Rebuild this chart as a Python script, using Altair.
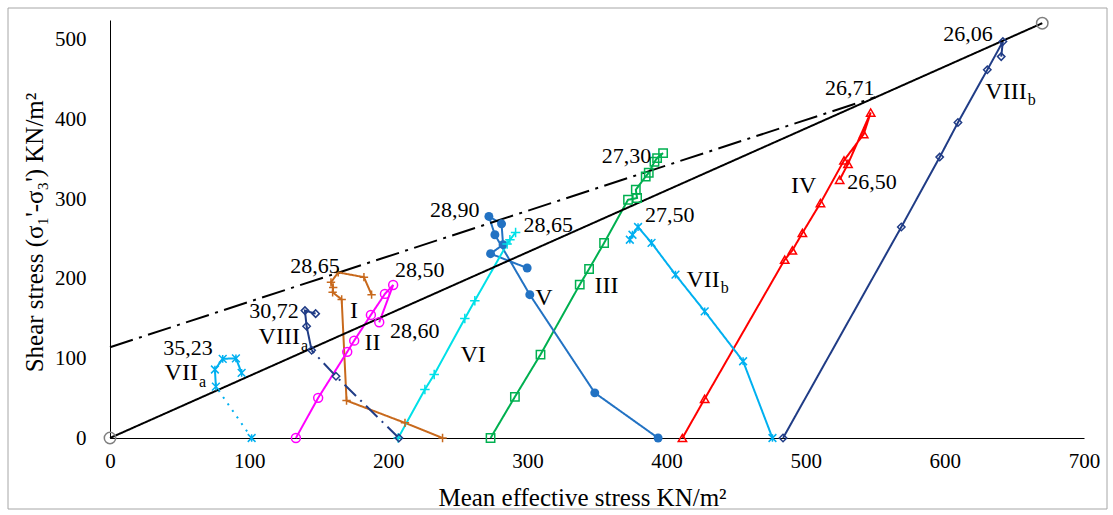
import altair as alt
import pandas as pd

# ---------------- data ----------------
I_x = [239, 212, 170, 166.5, 160, 160.4, 158.8, 164, 182.5, 188]
I_y = [0, 19, 47, 174, 183, 189, 195.5, 208, 202, 180]
II_x = [133.6, 149.6, 170.5, 175.5, 187.5, 197.6, 203.5, 193.5]
II_y = [0, 50.4, 108.2, 122.3, 154.6, 181, 192.2, 145.3]
III_x = [273.5, 291, 309.4, 337.6, 344.3, 355.1, 372.3, 378.8, 377.9, 385, 387.2, 391.3, 393.2, 397.5]
III_y = [0, 51.7, 104.8, 192.6, 212.3, 244.9, 299.2, 301.4, 311.8, 328.5, 333.1, 346.9, 351.6, 357.8]
IV_x = [411.4, 427.4, 484.9, 490.4, 497.6, 510.6, 527.5, 541.7, 546.7, 530.4, 524.4]
IV_y = [0, 49.2, 224, 235.6, 257.5, 295.1, 348.6, 381.7, 408.8, 344.4, 324.3]
V_x = [393.9, 348.4, 301.7, 276.6, 272.3, 281.4, 282.5, 273.5, 299.8]
V_y = [0, 56.7, 180, 255.3, 278.3, 269, 242.8, 231.5, 213.5]
VI_x = [207.1, 226.3, 233, 255, 262.2, 285.4, 287.4, 291.5]
VI_y = [0, 60.9, 79.7, 150, 172.5, 243.7, 249, 258.2]
VIIa_x = [101.8, 76.1, 75.4, 81, 90.5, 94.6]
VIIa_y = [0, 64.6, 86, 99.4, 100.1, 81.8]
VIIb_x = [476.1, 455, 427.4, 406.4, 389.2, 379.5, 375.5, 373.6]
VIIb_y = [0, 96.4, 159.1, 205.1, 245, 265, 255.3, 249]
VIIIa_x = [207.6, 162.4, 144.9, 141.3, 140.1, 147.8]
VIIIa_y = [0, 77.5, 110.2, 140.3, 160, 156.2]
VIIIb_x = [483.7, 568.7, 596.3, 609.4, 630.5, 641.7, 640.5]
VIIIb_y = [0, 265, 352.8, 396.2, 462.4, 497.9, 479]

# failure envelopes
env_x = [0, 670]
env_y = [0, 521]
envdd_x = [0, 550]
envdd_y = [114, 428]

# annotations: friction angles
num_text = ["35,23", "30,72", "28,65", "28,50", "28,60", "28,90", "28,65", "27,30",
            "27,50", "26,50", "26,71", "26,06"]
num_x = [56.0, 117.8, 147.3, 222.7, 219.1, 247.8, 314.9, 371.2, 402.3, 547.6, 531.6, 616.6]
num_y = [113.6, 160.0, 216.4, 211.4, 134.0, 286.7, 267.9, 353.6, 280.4, 321.0, 439.4, 507.5]
# test names without subscript
rom_text = ["I", "II", "III", "IV", "V", "VI"]
rom_x = [175.3, 188.7, 356.8, 498.6, 311.8, 261.0]
rom_y = [159.1, 119.4, 191.3, 316.0, 175.9, 104.8]
# test names with subscript (right end of the numeral)
rsub_text = ["VII", "VIII", "VII", "VIII"]
rsub_x = [63.2, 136.5, 438.2, 658.8]
rsub_y = [82.2, 126.7, 198.7, 435.1]
sub_text = ["a", "a", "b", "b"]
sub_y = [70.3, 115.0, 188.8, 424.7]

x_ticks = [0, 100, 200, 300, 400, 500, 600, 700]
y_ticks = [0, 100, 200, 300, 400, 500]

# ---------------- styles ----------------
C_I = "#C8691C"
C_II = "#FF00FF"
C_III = "#00B050"
C_IV = "#FF0000"
C_V = "#2272C3"
C_VI = "#00E0E8"
C_VII = "#00B0F0"
C_VIII = "#203C86"

segments = [
    ("I", I_x, I_y, C_I, "solid"),
    ("II", II_x, II_y, C_II, "solid"),
    ("III", III_x, III_y, C_III, "solid"),
    ("IV", IV_x, IV_y, C_IV, "solid"),
    ("V", V_x, V_y, C_V, "solid"),
    ("VI", VI_x, VI_y, C_VI, "solid"),
    ("VIIa1", VIIa_x[:2], VIIa_y[:2], C_VII, "dot"),
    ("VIIa2", VIIa_x[1:], VIIa_y[1:], C_VII, "solid"),
    ("VIIb", VIIb_x, VIIb_y, C_VII, "solid"),
    ("VIIIa1", VIIIa_x[:3], VIIIa_y[:3], C_VIII, "dashdot"),
    ("VIIIa2", VIIIa_x[2:], VIIIa_y[2:], C_VIII, "solid"),
    ("VIIIb", VIIIb_x, VIIIb_y, C_VIII, "solid"),
    ("env", env_x, env_y, "#000000", "solid"),
    ("envdd", envdd_x, envdd_y, "#000000", "envdd"),
]

rows = []
for name, xs, ys, col, sty in segments:
    for i, (a, b) in enumerate(zip(xs, ys)):
        rows.append({"seg": name, "x": a, "y": b, "ord": i, "style": sty})
line_df = pd.DataFrame(rows)

FONT = "Liberation Serif"

x_enc = alt.X("x:Q", scale=alt.Scale(domain=[0, 700], nice=False),
              axis=alt.Axis(values=x_ticks, grid=False, ticks=False, domainColor="black",
                            domainWidth=1, labelFont=FONT, labelFontSize=21, labelColor="black",
                            labelPadding=12, title="Mean effective  stress KN/m²",
                            titleFont=FONT, titleFontSize=25, titleFontWeight="normal",
                            titleColor="black", titleX=472, titleY=67,
                            titleBaseline="alphabetic", labelFlush=False))
y_enc = alt.Y("y:Q", scale=alt.Scale(domain=[0, 525], nice=False),
              axis=alt.Axis(values=y_ticks, grid=False, ticks=False, domainColor="black",
                            domainWidth=1, labelFont=FONT, labelFontSize=21, labelColor="black",
                            labelPadding=24, title="Shear stress (σ₁'-σ₃') KN/m²",
                            titleFont=FONT, titleFontSize=25, titleFontWeight="normal",
                            titleColor="black", titleX=-63, titleY=212, labelFlush=False))

lines = alt.Chart(line_df).mark_line(strokeWidth=2).encode(
    x=x_enc, y=y_enc,
    color=alt.Color("seg:N", scale=alt.Scale(domain=[s[0] for s in segments],
                                             range=[s[3] for s in segments]), legend=None),
    strokeDash=alt.StrokeDash("style:N", scale=alt.Scale(
        domain=["solid", "dot", "dashdot", "envdd"],
        range=[[1, 0], [2, 6], [16, 6, 2, 6], [24, 6.5, 3, 6.5]]), legend=None),
    detail="seg:N",
    order=alt.Order("ord:Q"),
)

PLUS = "M-1,0L1,0M0,-1L0,1"
STAR = "M-1,-1L1,1M-1,1L1,-1M0,-1L0,1"


def pts(xs, ys, color, shape, size, filled=False, sw=1.5):
    df = pd.DataFrame({"x": xs, "y": ys})
    return alt.Chart(df).mark_point(shape=shape, filled=filled, size=size, color=color,
                                    strokeWidth=sw, opacity=1).encode(x=x_enc, y=y_enc)


points = [
    pts(I_x, I_y, C_I, PLUS, 70),
    pts(II_x, II_y, C_II, "circle", 80),
    pts(III_x, III_y, C_III, "square", 70),
    pts(IV_x, IV_y, C_IV, "triangle-up", 70),
    pts(V_x, V_y, C_V, "circle", 80, filled=True),
    pts(VI_x, VI_y, C_VI, PLUS, 90),
    pts(VIIa_x, VIIa_y, C_VII, STAR, 60),
    pts(VIIb_x, VIIb_y, C_VII, STAR, 60),
    pts(VIIIa_x, VIIIa_y, C_VIII, "diamond", 55),
    pts(VIIIb_x, VIIIb_y, C_VIII, "diamond", 55),
    pts(env_x, env_y, "#7F7F7F", "circle", 130),
]

nums = alt.Chart(pd.DataFrame({"t": num_text, "x": num_x, "y": num_y})).mark_text(
    font=FONT, fontSize=22, color="black", align="center", baseline="middle"
).encode(x=x_enc, y=y_enc, text="t:N")

roms = alt.Chart(pd.DataFrame({"t": rom_text, "x": rom_x, "y": rom_y})).mark_text(
    font=FONT, fontSize=24, color="black", align="center", baseline="middle"
).encode(x=x_enc, y=y_enc, text="t:N")

roms_sub = alt.Chart(pd.DataFrame({"t": rsub_text, "x": rsub_x, "y": rsub_y})).mark_text(
    font=FONT, fontSize=24, color="black", align="right", baseline="middle"
).encode(x=x_enc, y=y_enc, text="t:N")

subs = alt.Chart(pd.DataFrame({"t": sub_text, "x": rsub_x, "y": sub_y})).mark_text(
    font=FONT, fontSize=16, color="black", align="left", baseline="middle", dx=1
).encode(x=x_enc, y=y_enc, text="t:N")

border = alt.Chart(alt.Data(values=[{}])).mark_rect(
    fill=None, stroke="#A6A6A6", strokeWidth=1
).encode(x=alt.value(-102), x2=alt.value(997), y=alt.value(-12), y2=alt.value(489))

chart = alt.layer(border, lines, *points, nums, roms, roms_sub, subs).properties(
    width=974, height=418,
    autosize=alt.AutoSizeParams(type="none"),
    padding={"left": 110, "top": 20, "right": 29, "bottom": 77},
    background="white",
).configure_view(stroke=None)

chart.save("out.html", embed_options={"renderer": "svg", "actions": False})
